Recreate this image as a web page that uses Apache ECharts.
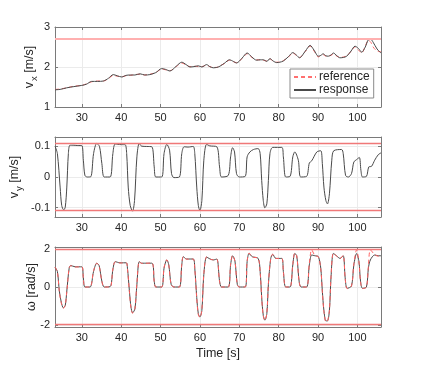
<!DOCTYPE html>
<html lang="en" style="height: 100%">
<head>
  <meta charset="utf-8">
</head>
<body style="height: 100%; margin: 0; background: #fff">
  <div id="container" style="width: 421px; height: 367px"></div>
  <script type="text/javascript" src="https://cdn.jsdelivr.net/npm/echarts@6/dist/echarts.min.js"></script>
  <script type="text/javascript">
    // ---- data ----
    // top panel: longitudinal velocity v_x [m/s]
    const vxT = [23.2, 24.5, 26.2, 28, 30, 31.2, 32.5, 34, 35.5, 36.8, 38, 39, 40.2, 41.2, 42.3, 43.5, 44.8, 46, 47.3, 48.8,
      50.3, 51.3, 52.4, 54, 55.4, 56.5, 57.5, 58.5, 59.6, 60.5, 61.7, 62.5, 63.4, 64.3, 65.1, 66.3, 67.5, 68.5, 69.3, 70.7,
      72, 73.2, 74.4, 75.3, 76.1, 77, 77.8, 78.6, 79.5, 80.3, 81.2, 82.5, 83.6, 84.5, 85.3, 86.8, 88, 89, 90.1, 90.7,
      91.3, 92, 92.6, 93.3, 93.9, 94.8, 95.6, 96.5, 97.3, 98.4, 99.4, 100.3, 101.1, 102, 102.8, 103.4, 104, 105, 106];
    const vxResp = [1.43, 1.44, 1.48, 1.51, 1.54, 1.57, 1.64, 1.64, 1.65, 1.72, 1.81, 1.78, 1.75, 1.79, 1.80, 1.80, 1.83, 1.80, 1.81, 1.86,
      1.96, 1.94, 1.90, 2.02, 2.12, 2.06, 2.00, 2.01, 2.03, 2.00, 2.06, 2.01, 1.98, 1.99, 2.02, 2.10, 2.18, 2.14, 2.10, 2.22,
      2.35, 2.25, 2.17, 2.18, 2.18, 2.14, 2.21, 2.15, 2.11, 2.12, 2.15, 2.26, 2.36, 2.30, 2.23, 2.40, 2.54, 2.42, 2.27, 2.29,
      2.33, 2.28, 2.27, 2.30, 2.35, 2.28, 2.23, 2.24, 2.27, 2.40, 2.52, 2.46, 2.37, 2.50, 2.68, 2.69, 2.62, 2.45, 2.35];
    const vxRef = [1.44, 1.45, 1.48, 1.52, 1.54, 1.58, 1.63, 1.65, 1.65, 1.71, 1.79, 1.77, 1.76, 1.78, 1.79, 1.81, 1.82, 1.80, 1.82, 1.86,
      1.95, 1.93, 1.91, 2.01, 2.10, 2.05, 2.01, 2.02, 2.01, 2.01, 2.05, 2.01, 1.99, 1.99, 2.03, 2.09, 2.17, 2.13, 2.11, 2.21,
      2.33, 2.24, 2.18, 2.18, 2.17, 2.15, 2.20, 2.15, 2.12, 2.12, 2.16, 2.25, 2.35, 2.29, 2.24, 2.39, 2.52, 2.40, 2.25, 2.29,
      2.31, 2.27, 2.28, 2.29, 2.33, 2.27, 2.24, 2.25, 2.28, 2.39, 2.50, 2.42, 2.35, 2.52, 2.67, 2.62, 2.50, 2.40, 2.38];
    const vxLimit = 2.7;

    // middle panel: lateral velocity v_y [m/s]
    const vyT = [23.2, 23.8, 24.5, 24.9, 25.4, 25.8, 26.2, 26.6, 27, 28, 29, 30, 30.4, 30.8, 31.4, 32.3, 33, 33.8, 34.5, 35.1,
      35.7, 37.2, 37.9, 38.5, 40, 41, 41.4, 41.8, 42.3, 42.9, 43.4, 44, 44.6, 45.2, 46.5, 47.8, 48.4, 48.8, 50.3, 50.9,
      51.6, 52.3, 52.8, 53.4, 54.8, 55.4, 56, 57, 58.3, 58.7, 59.2, 59.6, 60, 60.5, 61, 61.7, 62.5, 64.3, 65, 65.5,
      67.2, 67.8, 68.3, 68.8, 69.3, 70, 71.5, 72, 72.7, 73.6, 74.8, 75.3, 75.7, 76.1, 76.5, 77, 77.4, 77.8, 78.5, 80.8,
      81.2, 81.8, 82.9, 83.6, 84.1, 85, 85.6, 87.1, 87.8, 88.4, 89.7, 90.7, 91.1, 91.5, 92, 92.4, 92.9, 93.5, 94, 96,
      96.4, 97, 97.7, 98.5, 99.1, 99.8, 100.5, 100.9, 101.3, 102.3, 102.9, 103.6, 104.4, 105.3, 106];
    const vyResp = [0.101, 0.077, -0.033, -0.093, -0.108, -0.099, -0.033, 0.077, 0.104, 0.104, 0.103, 0.103, 0.055, 0.005, 0, 0.001, 0.077, 0.110, 0.100, 0.044,
      0, 0, 0.077, 0.108, 0.106, 0.106, 0.077, -0.033, -0.093, -0.112, -0.077, 0.066, 0.110, 0.101, 0.100, 0.099, 0.033, 0, 0, 0.077,
      0.107, 0.088, 0.011, -0.002, 0, 0.077, 0.099, 0.098, 0.100, 0.077, -0.033, -0.093, -0.110, -0.077, 0.055, 0.107, 0.102, 0.099, 0.033, 0,
      0.005, 0.066, 0.096, 0.082, 0.011, 0, 0.002, 0.066, 0.082, 0.090, 0.093, 0.077, -0.011, -0.077, -0.101, -0.088, -0.011, 0.077, 0.097, 0.097,
      0.066, 0, 0.002, 0.066, 0.082, 0.055, 0, 0.002, 0.046, 0.053, 0.082, 0.086, 0.044, -0.033, -0.077, -0.088, -0.055, 0.055, 0.086, 0.090,
      0.077, 0.005, 0, 0.011, 0.049, 0.057, 0.064, 0.022, 0, 0.002, 0.033, 0.035, 0.055, 0.073, 0.079];
    const vyLimit = 0.112;

    // bottom panel: yaw rate omega [rad/s]
    const wT = [23.2, 23.8, 24.3, 24.8, 25.3, 25.8, 26.2, 26.8, 27.2, 28.3, 30, 30.4, 30.8, 32.1, 33, 33.8, 34.4, 35.1, 35.7, 37.2,
      37.9, 38.5, 39.7, 41.3, 41.6, 42.1, 42.5, 42.9, 43.5, 44, 44.6, 45.2, 47.8, 48.4, 48.8, 50.3, 50.9, 51.6, 52.1, 52.7,
      53.4, 54.8, 55.4, 55.8, 56.6, 58.3, 58.7, 59.2, 59.6, 60, 60.5, 61, 61.7, 62.6, 63.4, 64.3, 65, 65.5, 67.2, 67.8,
      68.3, 68.9, 69.5, 70, 71.5, 72, 72.5, 73.3, 74.8, 75.3, 75.7, 76.1, 76.5, 77, 77.4, 78, 78.5, 79.3, 80.8, 81.2,
      81.8, 82.9, 83.6, 84.1, 84.6, 85.2, 85.7, 87.1, 87.8, 88.4, 89.2, 90.1, 90.7, 91.1, 91.5, 92, 92.4, 92.9, 93.3, 93.9,
      94.7, 95.6, 96.4, 96.9, 97.4, 98.5, 99.1, 99.8, 100.4, 100.8, 101.3, 102.3, 102.8, 103.3, 104.4, 105.3, 106];
    const wResp = [1.03, 0.82, -0.21, -0.80, -1.09, -0.97, -0.21, 0.99, 1.13, 1.06, 1.06, 0.48, 0, 0, 0.82, 1.25, 1.13, 0.31, 0, 0.02,
      0.91, 1.33, 1.27, 1.27, 0.99, -0.21, -1.06, -1.35, -1.15, 0.14, 1.33, 1.25, 1.25, 0.31, 0, 0, 0.99, 1.42, 1.16, 0.14,
      0, 0, 1.16, 1.59, 1.47, 1.47, 0.99, -0.55, -1.40, -1.57, -1.23, 0.65, 1.57, 1.47, 1.42, 1.47, 0.31, 0, 0, 1.16,
      1.64, 1.37, 0.14, 0, 0, 1.33, 1.76, 1.59, 1.50, 0.82, -0.55, -1.49, -1.74, -1.40, 0.14, 1.50, 1.71, 1.50, 1.50, 0.82,
      0, 0, 1.16, 1.76, 1.64, 0.31, 0, 0, 1.16, 1.68, 1.64, 1.59, 0.99, -0.21, -1.23, -1.78, -1.78, -1.23, 0.48, 1.76,
      1.64, 1.50, 1.64, 0.48, -0.07, 0.05, 1.16, 1.76, 1.33, 0.31, -0.07, 0, 0.99, 1.42, 1.68, 1.64, 1.64];
    const wRef = [1.05, 0.80, -0.25, -0.85, -1.12, -0.95, -0.25, 1.00, 1.12, 1.05, 1.06, 0.45, 0, 0, 0.85, 1.24, 1.12, 0.30, 0, 0,
      0.95, 1.32, 1.26, 1.27, 0.95, -0.25, -1.10, -1.38, -1.12, 0.18, 1.34, 1.24, 1.26, 0.28, 0, 0, 1.02, 1.43, 1.14, 0.12,
      0, 0, 1.20, 1.60, 1.46, 1.47, 0.95, -0.60, -1.45, -1.60, -1.20, 0.70, 1.58, 1.46, 1.43, 1.46, 0.28, 0, 0, 1.20,
      1.66, 1.35, 0.12, 0, 0, 1.36, 1.78, 1.58, 1.50, 0.78, -0.60, -1.52, -1.76, -1.38, 0.18, 1.52, 1.72, 1.50, 1.50, 0.80,
      0, 0, 1.20, 1.78, 1.63, 0.28, 0, 0, 1.25, 1.95, 1.66, 1.58, 0.95, -0.25, -1.28, -1.82, -1.80, -1.20, 0.52, 1.78,
      1.63, 1.50, 1.66, 0.45, -0.08, 0.05, 1.20, 1.95, 1.30, 0.28, -0.08, 0, 1.10, 1.95, 1.70, 1.62, 1.64];
    const wLimit = 1.98;

    const tMin = 23.2, tMax = 106;

    function pairs(t, v) {
      return t.map(function (x, i) { return [x, v[i]]; });
    }

    const textColor = '#262626';
    const boxColor = '#7a7a7a';
    const font = 'Liberation Sans';

    var dom = document.getElementById('container');
    var myChart = echarts.init(dom, null, { renderer: 'canvas' });

    const grids = [
      { left: 55, top: 27, width: 326, height: 80 },
      { left: 55, top: 137, width: 326, height: 80 },
      { left: 55, top: 247, width: 326, height: 80 }
    ];

    function xAxisFor(i, withName) {
      return {
        type: 'value', gridIndex: i, min: tMin, max: tMax, splitNumber: 8,
        name: withName ? 'Time [s]' : '',
        nameLocation: 'middle', nameGap: 20, nameMoveOverlap: false,
        nameTextStyle: { color: textColor, fontSize: 12.5, fontFamily: font },
        axisLine: { show: true, onZero: false, lineStyle: { color: boxColor, width: 1 } },
        axisTick: { show: true, inside: true, length: 3, lineStyle: { color: boxColor } },
        axisLabel: { color: textColor, fontSize: 11, fontFamily: font, margin: 5, showMinLabel: false, showMaxLabel: false },
        splitLine: { show: true, lineStyle: { color: '#ebebeb', width: 1 } }
      };
    }
    function xTopFor(i) {
      return {
        type: 'value', gridIndex: i, position: 'top', min: tMin, max: tMax, splitNumber: 8,
        axisLine: { show: true, onZero: false, lineStyle: { color: boxColor, width: 1 } },
        axisTick: { show: true, inside: true, length: 3, lineStyle: { color: boxColor } },
        axisLabel: { show: false }, splitLine: { show: false }
      };
    }
    function yAxisFor(i, min, max, split, endLabels, gap, name, rich) {
      return {
        type: 'value', gridIndex: i, min: min, max: max, splitNumber: split,
        name: name, nameLocation: 'middle', nameRotate: 90, nameGap: gap, nameMoveOverlap: false,
        nameTextStyle: { color: textColor, fontSize: 12, fontFamily: font, rich: rich },
        axisLine: { show: true, onZero: false, lineStyle: { color: boxColor, width: 1 } },
        axisTick: { show: true, inside: true, length: 3, lineStyle: { color: boxColor } },
        axisLabel: { color: textColor, fontSize: 11, fontFamily: font, margin: 5, showMinLabel: endLabels, showMaxLabel: endLabels },
        splitLine: { show: true, lineStyle: { color: '#ebebeb', width: 1 } }
      };
    }
    function yRightFor(i, min, max, split) {
      return {
        type: 'value', gridIndex: i, position: 'right', min: min, max: max, splitNumber: split,
        axisLine: { show: true, onZero: false, lineStyle: { color: boxColor, width: 1 } },
        axisTick: { show: true, inside: true, length: 3, lineStyle: { color: boxColor } },
        axisLabel: { show: false }, splitLine: { show: false }
      };
    }

    const subRich = {
      v: { fontSize: 12.5, fontFamily: font, color: textColor },
      s: { fontSize: 9.5, fontFamily: font, color: textColor, padding: [8, 0, 0, 1] }
    };

    function limitLine(values, color, width) {
      return {
        silent: true, symbol: 'none', animation: false,
        label: { show: false },
        lineStyle: { color: color, width: width, type: 'solid' },
        data: values.map(function (v) { return { yAxis: v }; })
      };
    }

    option = {
      animation: false,
      backgroundColor: '#fff',
      grid: grids,
      legend: {
        data: ['reference', 'response'],
        orient: 'vertical', left: 290, top: 69,
        backgroundColor: '#fff', borderColor: '#8a8a8a', borderWidth: 1,
        padding: [2, 4, 2, 3], itemGap: 1, itemWidth: 22, itemHeight: 12,
        itemStyle: { opacity: 0 },
        textStyle: { color: textColor, fontSize: 12, fontFamily: font, padding: [0, 0, 0, -2] }
      },
      xAxis: [xAxisFor(0, false), xAxisFor(1, false), xAxisFor(2, true), xTopFor(0), xTopFor(1), xTopFor(2)],
      yAxis: [
        yAxisFor(0, 1, 3, 2, true, 16, '{v|v}{s|x}{v| [m/s]}', subRich),
        yAxisFor(1, -0.131, 0.131, 3, false, 31, '{v|v}{s|y}{v| [m/s]}', subRich),
        yAxisFor(2, -2.1, 2.1, 2, false, 17, '{v|ω [rad/s]}', subRich),
        yRightFor(0, 1, 3, 2), yRightFor(1, -0.131, 0.131, 3), yRightFor(2, -2.1, 2.1, 2)
      ],
      series: [
        {
          name: 'reference', type: 'line', xAxisIndex: 0, yAxisIndex: 0,
          data: pairs(vxT, vxRef), showSymbol: false, symbol: 'none', smooth: 0.3,
          lineStyle: { color: '#ff7070', width: 1, type: [4, 3] }, itemStyle: { color: '#ff7070' },
          markLine: limitLine([vxLimit], '#ffb0b0', 2)
        },
        {
          name: 'response', type: 'line', xAxisIndex: 0, yAxisIndex: 0,
          data: pairs(vxT, vxResp), showSymbol: false, symbol: 'none', smooth: 0.3,
          lineStyle: { color: '#4a4a4a', width: 1 }, itemStyle: { color: '#4a4a4a' }
        },
        {
          name: 'response', type: 'line', xAxisIndex: 1, yAxisIndex: 1,
          data: pairs(vyT, vyResp), showSymbol: false, symbol: 'none', smooth: 0.3,
          lineStyle: { color: '#4a4a4a', width: 1 },
          markLine: limitLine([vyLimit, -vyLimit], '#f07878', 1.3)
        },
        {
          name: 'response', type: 'line', xAxisIndex: 2, yAxisIndex: 2,
          data: pairs(wT, wResp), showSymbol: false, symbol: 'none', smooth: 0.3,
          lineStyle: { color: '#4a4a4a', width: 1 },
          markLine: limitLine([wLimit, -wLimit], '#f07878', 1.3)
        },
        {
          name: 'reference', type: 'line', xAxisIndex: 2, yAxisIndex: 2,
          data: pairs(wT, wRef), showSymbol: false, symbol: 'none', smooth: 0.3,
          lineStyle: { color: '#ff6060', width: 1, type: [4, 3] }
        }
      ]
    };

    myChart.setOption(option);
    window.addEventListener('resize', myChart.resize);
  </script>
</body>
</html>
